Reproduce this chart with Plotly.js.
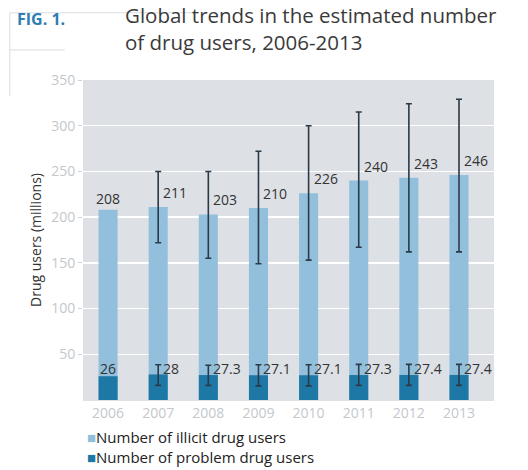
<!DOCTYPE html>
<html><head><meta charset="utf-8">
<script src="https://cdn.plot.ly/plotly-3.0.1.min.js"></script>
<style>body{margin:0;background:#fff}#c{width:528px;height:470px}</style>
</head><body><div id="c"></div>
<script>
const years = ['2006','2007','2008','2009','2010','2011','2012','2013'];
const illicit = [208, 211, 203, 210, 226, 240, 243, 246];
const illicitLow = [null, 172, 155, 149, 153, 167, 162, 162];
const illicitHigh = [null, 250, 250, 272, 300, 315, 324, 329];
const problem = [26, 28, 27.3, 27.1, 27.1, 27.3, 27.4, 27.4];
const problemLow = [null, 16, 16, 15.5, 15.5, 16, 16, 16];
const problemHigh = [null, 38.6, 38, 38.5, 38.6, 39, 39, 39];
const illicitLabels = ['208','211','203','210','226','240','243','246'];
const problemLabels = ['26','28','27.3','27.1','27.1','27.3','27.4','27.4'];
const seriesNames = ['Number of illicit drug users', 'Number of problem drug users'];
const seriesColors = ['#92bfdc', '#1e78a6'];

const font = 'Open Sans, sans-serif';

function errTrace(vals, lo, hi) {
  const idx = vals.map((v, i) => i).filter(i => lo[i] != null);
  return {type:'scatter', mode:'markers', x:idx.map(i => years[i]), y:idx.map(i => vals[i]),
    marker:{size:1, opacity:0}, hoverinfo:'skip', showlegend:false,
    error_y:{type:'data', symmetric:false, array:idx.map(i => hi[i] - vals[i]), arrayminus:idx.map(i => vals[i] - lo[i]),
             color:'#2b3a48', thickness:1.6, width:3}};
}

const traces = [
  {type:'bar', x:years, y:illicit, name:seriesNames[0], marker:{color:seriesColors[0]}, width:0.38},
  {type:'bar', x:years, y:problem, name:seriesNames[1], marker:{color:seriesColors[1]}, width:0.38},
  errTrace(illicit, illicitLow, illicitHigh),
  errTrace(problem, problemLow, problemHigh)
];

const ann = [];
years.forEach((yr, i) => {
  const first = i === 0;
  ann.push({x:i, y:illicit[i], xref:'x', yref:'y', text:illicitLabels[i], showarrow:false,
    xanchor: first ? 'center' : 'left', yanchor:'bottom', xshift: first ? 0 : 3, yshift: first ? 0 : 3,
    font:{family:font, size:14, color:'#333'}});
  ann.push({x:i, y:34, xref:'x', yref:'y', text:problemLabels[i], showarrow:false,
    xanchor: first ? 'center' : 'left', yanchor:'middle', xshift: first ? 0 : 3,
    font:{family:font, size:14, color:'#333'}});
});
ann.push({xref:'paper', yref:'paper', x:-0.165, y:1.19, xanchor:'left', yanchor:'middle', showarrow:false,
  text:'<b>FIG. 1.</b>', font:{family:font, size:16, color:'#2e7db5'}});
ann.push({xref:'paper', yref:'paper', x:0.097, y:1.16, xanchor:'left', yanchor:'middle', showarrow:false, align:'left',
  text:'Global trends in the estimated number<br>of drug users, 2006-2013', font:{family:font, size:20.5, color:'#3a3a3a'}});
seriesNames.forEach((n, k) => {
  ann.push({xref:'paper', yref:'paper', x:0.005, y:-0.115 - k*0.064, xanchor:'left', yanchor:'middle', showarrow:false,
    text:'<span style="color:' + seriesColors[k] + '">■</span>' + n, font:{family:font, size:15, color:'#222'}});
});

const layout = {
  width:528, height:470,
  margin:{l:83, r:34, t:80, b:70},
  paper_bgcolor:'#fff', plot_bgcolor:'#dde0e4',
  barmode:'overlay', showlegend:false,
  font:{family:font},
  xaxis:{type:'category', tickfont:{size:14, color:'#c4c8cc'}, showgrid:false, ticks:'', linecolor:'#dde0e4'},
  yaxis:{range:[0,350], tickvals:[50,100,150,200,250,300,350], showgrid:true, gridcolor:'#ffffff', gridwidth:1.5,
         ticks:'outside', ticklen:4, tickcolor:'#d0d3d6', tickfont:{size:14, color:'#c4c8cc'}, zeroline:false,
         title:{text:'Drug users (millions)', font:{size:14, color:'#333'}, standoff:6}},
  annotations:ann,
  shapes:[
    {type:'line', xref:'paper', yref:'paper', x0:-0.178, x1:0.28, y0:1.21, y1:1.21, line:{color:'#d8dde2', width:1}},
    {type:'line', xref:'paper', yref:'paper', x0:-0.178, x1:-0.178, y0:1.21, y1:0.95, line:{color:'#d8dde2', width:1}},
    {type:'line', xref:'paper', yref:'paper', x0:-0.178, x1:-0.044, y0:1.094, y1:1.094, line:{color:'#d8dde2', width:1}}
  ]
};
Plotly.newPlot('c', traces, layout, {displayModeBar:false, staticPlot:true});
</script></body></html>
